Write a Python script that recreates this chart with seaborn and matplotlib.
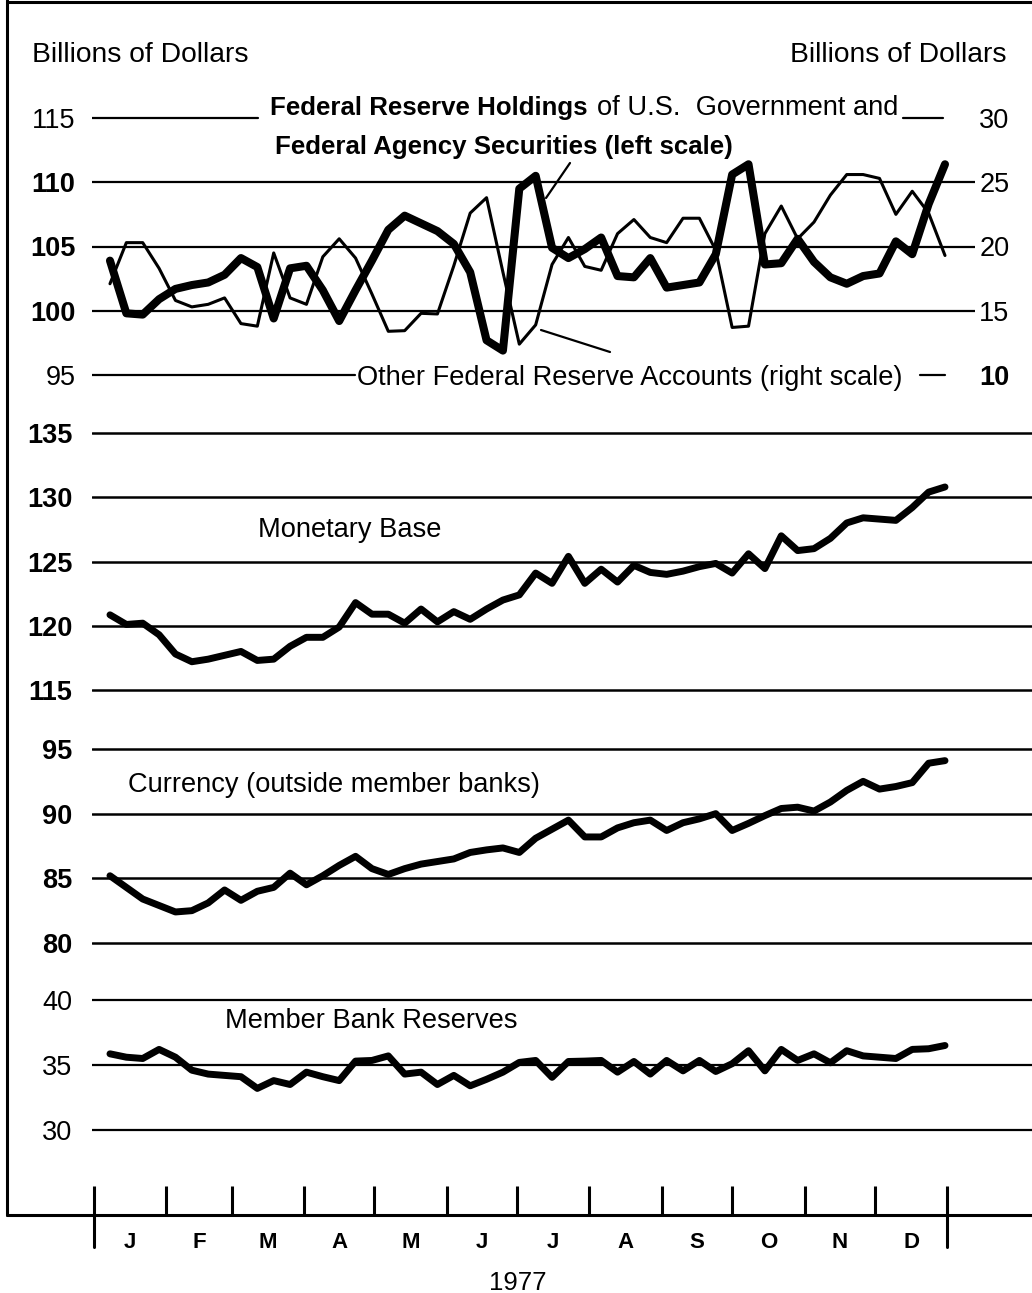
import pandas as pd
import matplotlib
matplotlib.use("Agg")
import matplotlib.pyplot as plt
from matplotlib.lines import Line2D
import seaborn as sns

# Dados semanais de 1977 (bilhoes de dolares)
weeks = pd.date_range("1977-01-08", periods=52, freq="7D")

fed_holdings = [103.9, 99.8, 99.7, 100.9, 101.7, 102.0, 102.2, 102.8, 104.1, 103.4,
                99.4, 103.3, 103.5, 101.6, 99.2, 101.6, 103.9, 106.3, 107.4, 106.8,
                106.2, 105.2, 103.0, 97.7, 96.9, 109.5, 110.5, 104.9, 104.1, 104.8,
                105.7, 102.7, 102.6, 104.1, 101.8, 102.0, 102.2, 104.4, 110.6, 111.4,
                103.6, 103.7, 105.6, 103.8, 102.6, 102.1, 102.7, 102.9, 105.4, 104.4,
                108.3, 111.4]
other_accounts = [17.1, 20.3, 20.3, 18.3, 15.8, 15.3, 15.5, 16.0, 14.0, 13.8,
                  19.5, 16.0, 15.5, 19.2, 20.6, 19.1, 16.3, 13.4, 13.45, 14.8,
                  14.75, 18.5, 22.6, 23.8, 18.0, 12.4, 13.9, 18.6, 20.7, 18.45,
                  18.15, 21.0, 22.1, 20.7, 20.3, 22.2, 22.2, 19.7, 13.7, 13.8,
                  21.0, 23.15, 20.6, 21.9, 24.0, 25.6, 25.6, 25.3, 22.5, 24.3,
                  22.6, 19.3]
monetary_base = [120.85, 120.1, 120.2, 119.3, 117.8, 117.2, 117.4, 117.7, 118.0, 117.3,
                 117.4, 118.4, 119.1, 119.1, 119.9, 121.8, 120.9, 120.9, 120.2, 121.3,
                 120.3, 121.1, 120.5, 121.3, 122.0, 122.4, 124.1, 123.3, 125.4, 123.3,
                 124.4, 123.4, 124.7, 124.15, 124.0, 124.25, 124.6, 124.85, 124.1, 125.6,
                 124.45, 127.0, 125.85, 126.0, 126.8, 128.0, 128.4, 128.3, 128.2, 129.2,
                 130.4, 130.8]
currency = [85.2, 84.3, 83.4, 82.9, 82.4, 82.5, 83.1, 84.1, 83.3, 84.0,
            84.3, 85.4, 84.5, 85.2, 86.0, 86.7, 85.75, 85.3, 85.75, 86.1,
            86.3, 86.5, 87.0, 87.2, 87.35, 87.0, 88.1, 88.8, 89.5, 88.2,
            88.2, 88.9, 89.3, 89.5, 88.7, 89.3, 89.6, 90.0, 88.7, 89.25,
            89.85, 90.4, 90.5, 90.2, 90.9, 91.8, 92.5, 91.9, 92.1, 92.4,
            93.9, 94.1]
member_reserves = [35.86, 35.6, 35.5, 36.2, 35.6, 34.6, 34.3, 34.2, 34.1, 33.2,
                   33.8, 33.5, 34.45, 34.1, 33.8, 35.3, 35.35, 35.7, 34.3, 34.45,
                   33.5, 34.2, 33.4, 33.9, 34.45, 35.2, 35.35, 34.05, 35.27, 35.3,
                   35.35, 34.45, 35.27, 34.3, 35.35, 34.55, 35.35, 34.5, 35.1, 36.1,
                   34.55, 36.2, 35.35, 35.86, 35.17, 36.1, 35.7, 35.6, 35.5, 36.2,
                   36.25, 36.5]

month_letters = ["J", "F", "M", "A", "M", "J", "J", "A", "S", "O", "N", "D"]
ticks_top_left = [95, 100, 105, 110, 115]
ticks_top_right = [10, 15, 20, 25, 30]
ticks_base = [115, 120, 125, 130, 135]
ticks_currency = [80, 85, 90, 95]
ticks_reserves = [30, 35, 40]

sns.set_style("white")
plt.rcParams["font.family"] = ["Liberation Sans", "DejaVu Sans"]
plt.rcParams["text.color"] = "black"
plt.rcParams["xtick.color"] = "black"
plt.rcParams["ytick.color"] = "black"
plt.rcParams["axes.labelcolor"] = "black"

W, H = 1032, 1293
PX0, PXD = 93.6, 2.339   # pixel do dia 1 de janeiro e pixels por dia
start = pd.Timestamp("1977-01-01")
days = (weeks - start).days.to_numpy()
month_starts = pd.date_range("1977-01-01", "1978-01-01", freq="MS")
month_days = (month_starts - start).days.to_numpy()
month_mid = (month_days[:-1] + month_days[1:]) / 2

fig = plt.figure(figsize=(W / 100, H / 100), dpi=100)


def make_axes(left, top, right, bottom, v1, p1, v2, p2):
    ax = fig.add_axes([left / W, 1 - bottom / H, (right - left) / W, (bottom - top) / H])
    k = (p2 - p1) / (v1 - v2)
    ax.set_ylim(v2 - (bottom - p2) / k, v1 + (p1 - top) / k)
    ax.set_xlim((left - PX0) / PXD, (right - PX0) / PXD)
    for s in ax.spines.values():
        s.set_visible(False)
    ax.set_xticks([])
    ax.patch.set_alpha(0)
    return ax


def y_labels(ax, ticks, pad, bold=()):
    ax.set_yticks(ticks)
    ax.tick_params(axis="y", length=0, pad=pad, labelsize=19.5, labelcolor="black")
    for t, lbl in zip(ticks, ax.get_yticklabels()):
        lbl.set_fontweight("bold" if t in bold else "normal")


# Painel 1: Federal Reserve Holdings / Other accounts
ax1 = make_axes(92, 90, 975, 400, 115, 118, 95, 375)
for t in [100, 105, 110]:
    ax1.axhline(t, color="k", lw=1.6, zorder=1)
ax1.axhline(115, xmin=0, xmax=0.188, color="k", lw=1.6)
ax1.axhline(115, xmin=0.918, xmax=0.964, color="k", lw=1.6)
ax1.axhline(95, xmin=0, xmax=0.298, color="k", lw=1.6)
ax1.axhline(95, xmin=0.938, xmax=0.966, color="k", lw=1.6)
y_labels(ax1, ticks_top_left, 12, bold=(100, 105, 110))
sns.lineplot(x=days, y=fed_holdings, ax=ax1, color="black", linewidth=5.8,
             estimator=None, legend=False, zorder=3)

ax1r = ax1.twinx()
lo, hi = ax1.get_ylim()
ax1r.set_ylim(lo - 85, hi - 85)
for s in ax1r.spines.values():
    s.set_visible(False)
ax1r.set_yticks(ticks_top_right)
ax1r.tick_params(axis="y", length=0, pad=3, labelsize=19.5, labelcolor="black")
for t, lbl in zip(ticks_top_right, ax1r.get_yticklabels()):
    lbl.set_fontweight("bold" if t == 10 else "normal")
sns.lineplot(x=days, y=other_accounts, ax=ax1r, color="black", linewidth=2.2,
             estimator=None, legend=False)

# Painel 2: Monetary Base
ax2 = make_axes(92, 410, 1032, 710, 135, 433, 115, 690)
for t in ticks_base:
    ax2.axhline(t, color="k", lw=1.8, zorder=1)
y_labels(ax2, ticks_base, 14, bold=ticks_base)
sns.lineplot(x=days, y=monetary_base, ax=ax2, color="black", linewidth=5.0,
             estimator=None, legend=False)

# Painel 3: Currency
ax3 = make_axes(92, 720, 1032, 965, 95, 749, 80, 943)
for t in ticks_currency:
    ax3.axhline(t, color="k", lw=1.8, zorder=1)
y_labels(ax3, ticks_currency, 14, bold=ticks_currency)
sns.lineplot(x=days, y=currency, ax=ax3, color="black", linewidth=5.0,
             estimator=None, legend=False)

# Painel 4: Member Bank Reserves
ax4 = make_axes(92, 975, 1032, 1215, 40, 1000, 30, 1130)
for t in ticks_reserves:
    ax4.axhline(t, color="k", lw=1.6, zorder=1)
y_labels(ax4, ticks_reserves, 14)
sns.lineplot(x=days, y=member_reserves, ax=ax4, color="black", linewidth=5.0,
             estimator=None, legend=False)
ax4.set_xticks(month_days)
ax4.set_xticks(month_mid, minor=True)
ax4.set_xticklabels(month_letters, minor=True)
ax4.tick_params(axis="x", which="major", direction="in", length=21, width=2.2,
                bottom=True, labelbottom=False)
ax4.tick_params(axis="x", which="minor", length=0, pad=12, labelsize=16,
                labelcolor="black")
for lbl in ax4.get_xticklabels(minor=True):
    lbl.set_fontweight("bold")
for d in (month_days[0], month_days[-1]):
    ax4.plot([d, d], [0, -0.135], transform=ax4.get_xaxis_transform(),
             color="k", lw=2.2, clip_on=False)

for ax in (ax1, ax1r, ax2, ax3, ax4):
    ax.set_xlabel("")
    ax.set_ylabel("")

# Moldura
frame = dict(transform=fig.transFigure, color="k", lw=2.2)
fig.add_artist(Line2D([7 / W, 7 / W], [1, 1 - 1215 / H], **frame))
fig.add_artist(Line2D([7 / W, 1], [1 - 1.5 / H, 1 - 1.5 / H], **frame))
fig.add_artist(Line2D([7 / W, 1], [1 - 1215 / H, 1 - 1215 / H], **frame))

# Linhas de chamada
fig.add_artist(Line2D([570 / W, 546 / W], [1 - 163 / H, 1 - 198 / H],
                      transform=fig.transFigure, color="k", lw=1.6))
fig.add_artist(Line2D([541 / W, 610 / W], [1 - 330 / H, 1 - 352 / H],
                      transform=fig.transFigure, color="k", lw=1.6))


# Textos
def label(x, y, s, **kw):
    fig.text(x / W, 1 - y / H, s, va="center", color="black", **kw)


label(32, 55, "Billions of Dollars", ha="left", fontsize=20.3)
label(1007, 55, "Billions of Dollars", ha="right", fontsize=20.3)
label(270, 108, "Federal Reserve Holdings", ha="left", fontsize=18.6, fontweight="bold")
label(898, 108, "of U.S.  Government and", ha="right", fontsize=19.6)
label(275, 147, "Federal Agency Securities (left scale)", ha="left", fontsize=18.6,
      fontweight="bold")
label(357, 378, "Other Federal Reserve Accounts (right scale)", ha="left", fontsize=19.6)
label(258, 530, "Monetary Base", ha="left", fontsize=19.6)
label(128, 785, "Currency (outside member banks)", ha="left", fontsize=19.6)
label(225, 1021, "Member Bank Reserves", ha="left", fontsize=19.6)
label(518, 1283, "1977", ha="center", fontsize=18.5)

fig.savefig("out.png", dpi=100)
